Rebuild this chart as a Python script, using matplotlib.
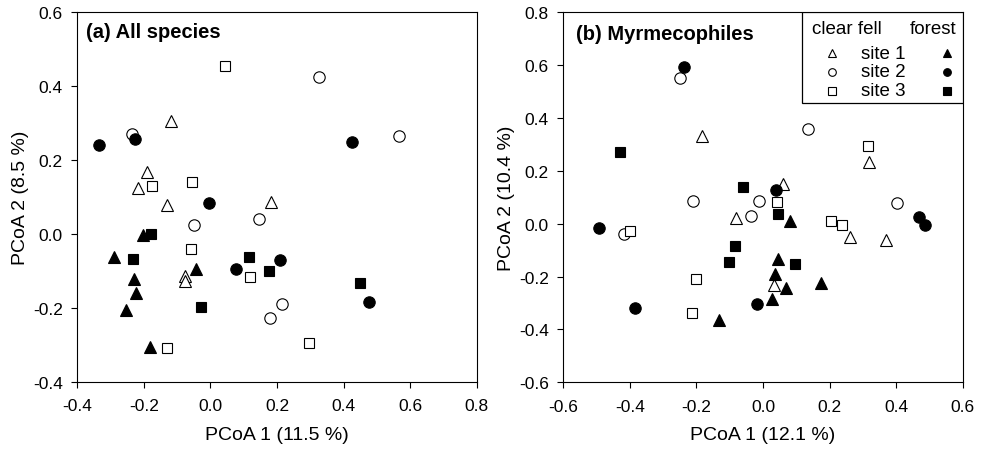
import matplotlib
matplotlib.use("Agg")
import matplotlib.pyplot as plt
from matplotlib.patches import Rectangle

plt.rcParams['font.family'] = ['Liberation Sans', 'DejaVu Sans']
plt.rcParams['axes.unicode_minus'] = False

# (a) All species -- (x, y) scores per group
a_cf_site1 = [(-0.117, 0.305), (-0.192, 0.169), (-0.217, 0.124), (-0.130, 0.078),
              (0.181, 0.087), (-0.077, -0.113), (-0.077, -0.127)]
a_cf_site2 = [(0.325, 0.426), (-0.236, 0.271), (0.568, 0.265), (0.145, 0.041),
              (-0.050, 0.025), (0.215, -0.189), (0.180, -0.227)]
a_cf_site3 = [(0.043, 0.456), (-0.175, 0.131), (-0.056, 0.140), (-0.057, -0.041),
              (0.119, -0.116), (-0.129, -0.310), (0.296, -0.296)]
a_fo_site1 = [(-0.203, -0.004), (-0.291, -0.062), (-0.042, -0.094), (-0.229, -0.123),
              (-0.223, -0.159), (-0.253, -0.207), (-0.183, -0.305)]
a_fo_site2 = [(-0.335, 0.242), (-0.227, 0.257), (0.426, 0.249), (-0.004, 0.085),
              (0.078, -0.096), (0.209, -0.071), (0.478, -0.185)]
a_fo_site3 = [(-0.179, 0.000), (-0.233, -0.068), (0.117, -0.062), (0.177, -0.100),
              (-0.029, -0.197), (0.448, -0.132)]

# (b) Myrmecophiles
b_cf_site1 = [(-0.184, 0.333), (0.318, 0.233), (0.061, 0.151), (-0.081, 0.021),
              (0.261, -0.052), (0.370, -0.062), (0.034, -0.230)]
b_cf_site2 = [(-0.248, 0.550), (0.135, 0.359), (-0.209, 0.085), (-0.011, 0.085),
              (0.403, 0.077), (-0.035, 0.031), (-0.419, -0.039)]
b_cf_site3 = [(0.315, 0.296), (0.041, 0.084), (0.205, 0.011), (0.238, -0.006),
              (-0.401, -0.026), (-0.201, -0.209), (-0.212, -0.339)]
b_fo_site1 = [(0.080, 0.011), (0.046, -0.135), (0.037, -0.189), (0.069, -0.244),
              (0.175, -0.226), (0.026, -0.284), (-0.131, -0.363)]
b_fo_site2 = [(-0.238, 0.594), (0.038, 0.129), (0.469, 0.024), (0.487, -0.003),
              (-0.494, -0.018), (-0.018, -0.303), (-0.383, -0.318)]
b_fo_site3 = [(-0.431, 0.270), (-0.060, 0.138), (0.046, 0.038), (-0.085, -0.085),
              (-0.103, -0.144), (0.096, -0.153)]

site_labels = ['site 1', 'site 2', 'site 3']
markers = ['^', 'o', 's']
msizes = [8.0, 8.2, 7.0]

fig = plt.figure(figsize=(9.82, 4.56), dpi=100)
ax1 = fig.add_axes([0.0787, 0.1607, 0.4067, 0.810])
ax2 = fig.add_axes([0.5736, 0.1594, 0.4067, 0.8114])


def draw(ax, cf_groups, fo_groups):
    for pts, m, ms in zip(cf_groups, markers, msizes):
        xs = [p[0] for p in pts]
        ys = [p[1] for p in pts]
        ax.plot(xs, ys, linestyle='none', marker=m, ms=ms, mfc='white',
                mec='black', mew=0.8, zorder=3)
    for pts, m, ms in zip(fo_groups, markers, msizes):
        xs = [p[0] for p in pts]
        ys = [p[1] for p in pts]
        ax.plot(xs, ys, linestyle='none', marker=m, ms=ms, mfc='black',
                mec='black', mew=0.8, zorder=3)
    ax.tick_params(direction='out', length=4, width=0.8, labelsize=12.5,
                   top=False, right=False)
    ax.tick_params(axis='x', pad=8)
    ax.tick_params(axis='y', pad=6.5)
    for s in ax.spines.values():
        s.set_linewidth(0.8)


draw(ax1, [a_cf_site1, a_cf_site2, a_cf_site3], [a_fo_site1, a_fo_site2, a_fo_site3])
ax1.set_xlim(-0.4, 0.8)
ax1.set_ylim(-0.4, 0.6)
ax1.set_xticks([-0.4, -0.2, 0.0, 0.2, 0.4, 0.6, 0.8])
ax1.set_yticks([-0.4, -0.2, 0.0, 0.2, 0.4, 0.6])
ax1.xaxis.set_major_formatter('{x:.1f}')
ax1.yaxis.set_major_formatter('{x:.1f}')
ax1.set_xlabel('PCoA 1 (11.5 %)', fontsize=14, labelpad=9)
ax1.set_ylabel('PCoA 2 (8.5 %)', fontsize=14, labelpad=3)
ax1.text(0.022, 0.947, '(a) All species', transform=ax1.transAxes,
         fontsize=14.5, fontweight='bold', va='center', ha='left')

draw(ax2, [b_cf_site1, b_cf_site2, b_cf_site3], [b_fo_site1, b_fo_site2, b_fo_site3])
ax2.set_xlim(-0.6, 0.6)
ax2.set_ylim(-0.6, 0.8)
ax2.set_xticks([-0.6, -0.4, -0.2, 0.0, 0.2, 0.4, 0.6])
ax2.set_yticks([-0.6, -0.4, -0.2, 0.0, 0.2, 0.4, 0.6, 0.8])
ax2.xaxis.set_major_formatter('{x:.1f}')
ax2.yaxis.set_major_formatter('{x:.1f}')
ax2.set_xlabel('PCoA 1 (12.1 %)', fontsize=14, labelpad=9)
ax2.set_ylabel('PCoA 2 (10.4 %)', fontsize=14, labelpad=3)
ax2.text(0.032, 0.944, '(b) Myrmecophiles', transform=ax2.transAxes,
         fontsize=14.5, fontweight='bold', va='center', ha='left')

# hand-built legend in the right panel
ax2.add_patch(Rectangle((0.597, 0.754), 0.403, 0.246, transform=ax2.transAxes,
                        facecolor='white', edgecolor='black', lw=0.9, zorder=4))
ax2.text(0.622, 0.955, 'clear fell', transform=ax2.transAxes, fontsize=13.5,
         va='center', ha='left', zorder=5)
ax2.text(0.985, 0.955, 'forest', transform=ax2.transAxes, fontsize=13.5,
         va='center', ha='right', zorder=5)
row_y = [0.889, 0.839, 0.788]
for yy, lab, m in zip(row_y, site_labels, markers):
    ax2.plot([0.672], [yy], marker=m, ms=5.5, mfc='white', mec='black', mew=0.8,
             transform=ax2.transAxes, zorder=5, clip_on=False)
    ax2.plot([0.960], [yy], marker=m, ms=5.5, mfc='black', mec='black', mew=0.8,
             transform=ax2.transAxes, zorder=5, clip_on=False)
    ax2.text(0.745, yy, lab, transform=ax2.transAxes, fontsize=13.5,
             va='center', ha='left', zorder=5)

fig.savefig('out.png', dpi=100)
